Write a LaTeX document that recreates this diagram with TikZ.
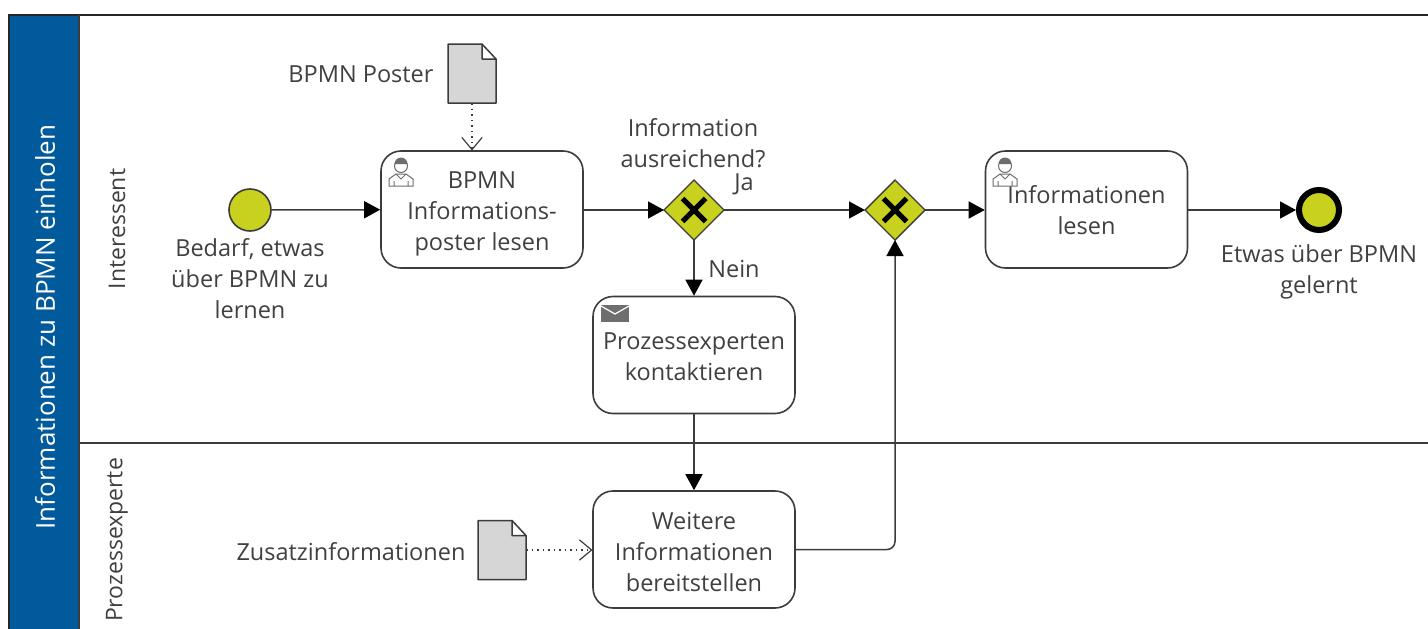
\documentclass[tikz,border=0pt]{standalone}
\usepackage{fontspec}
\setmainfont{Open Sans}
\usetikzlibrary{arrows.meta,shapes.geometric}
\definecolor{gwfill}{HTML}{C8D11E}
\definecolor{poolblue}{HTML}{005A9C}
\definecolor{linegray}{HTML}{3C3C3C}
\definecolor{txtgray}{HTML}{404040}
\definecolor{docfill}{HTML}{D6D6D6}
\definecolor{icongray}{HTML}{6E6E6E}
\newcommand\tasktext[2]{\raisebox{#1}[0pt][0pt]{\begin{tabular}{@{}c@{}}#2\end{tabular}}}
\tikzset{
  lbl/.style={inner sep=0pt,text=txtgray,align=center,font=\fontsize{23.5}{31}\selectfont},
  lanelbl/.style={inner sep=0pt,text=txtgray,rotate=90,font=\fontsize{23}{31}\selectfont},
  taskbox/.style={draw=linegray,line width=1.6pt,fill=white,rounded corners=20pt,minimum width=202pt,minimum height=117pt,inner sep=0pt,text=txtgray,font=\fontsize{23.5}{31}\selectfont},
  gateway/.style={diamond,aspect=1,draw=linegray,line width=1.4pt,fill=gwfill,minimum width=60pt,minimum height=60pt,inner sep=0pt,outer sep=0pt},
  xmark/.style={line width=5pt,black},
  startev/.style={circle,draw=linegray,line width=1.6pt,fill=gwfill,minimum size=42pt,inner sep=0pt},
  endev/.style={circle,draw=black,line width=6pt,fill=gwfill,minimum size=40pt,inner sep=0pt},
  flow/.style={draw=linegray,line width=1.5pt,-{Triangle[length=16pt,width=17pt,color=black]}},
  assoc/.style={draw=linegray,line width=1.2pt,dash pattern=on 1.5pt off 4pt,-{Straight Barb[length=12pt,width=20pt,color=linegray,line width=1.2pt,round]}},
  docpath/.style={draw=linegray,line width=1.5pt,fill=docfill,line join=round},
  docnode/.style={minimum width=48pt,minimum height=59pt,inner sep=0pt,outer sep=0pt},
  usericon/.pic={
    \draw[icongray,line width=1pt,fill=white] (-12,14) -- (-12,7) -- (-5,2) -- (5,2) -- (12,7) -- (12,14) -- cycle;
    \draw[icongray,line width=1pt] (-5,2) -- (0,7) -- (5,2) (-7,14) -- (-7,9) (7,14) -- (7,9);
    \draw[icongray,line width=1pt,fill=white] (0,-6) circle (6.5);
    \fill[icongray] (-6.5,-8) arc (180:360:6.5) -- cycle;
  },
  mailicon/.pic={
    \fill[icongray] (0,0) rectangle (28,17);
    \draw[white,line width=1.2pt] (0,1) -- (14,9) -- (28,1);
  }
}
\begin{document}
\begin{tikzpicture}[x=1pt,y=-1pt]
\useasboundingbox (0,0) rectangle (1428,629);
\fill[white] (0,0) rectangle (1428,629);
% pool
\fill[poolblue] (9,15) rectangle (79,629);
\draw[black!85,line width=1.6pt] (1428,15) -- (9,15) -- (9,629);
\draw[linegray,line width=1.6pt] (79,15) -- (79,629);
\draw[linegray,line width=1.8pt] (79,443) -- (1428,443);
\node[inner sep=0pt,rotate=90,text=white,font=\fontsize{26}{30}\selectfont] (pooltitle) at (45,327) {Informationen zu BPMN einholen};
\node[lanelbl] (lane1) at (117,229) {Interessent};
\node[lanelbl] (lane2) at (117,540) {Prozessexperte};
% events
\node[startev] (start) at (250,210) {};
\node[endev] (end) at (1319,210) {};
% tasks
\node[taskbox] (task1) at (482,209.5) {\tasktext{-10pt}{BPMN\\Informations-\\poster lesen}};
\node[taskbox] (task2) at (694,355) {\tasktext{-10pt}{Prozessexperten\\kontaktieren}};
\node[taskbox] (task3) at (1086.5,209.5) {\tasktext{-10pt}{Informationen\\lesen}};
\node[taskbox] (task4) at (694,549.5) {\tasktext{-11pt}{Weitere\\Informationen\\bereitstellen}};
% gateways
\node[gateway] (g1) at (694,210) {};
\node[gateway] (g2) at (895,210) {};
\draw[xmark] (g1) +(-11.5,-11.5) -- +(11.5,11.5) (g1) +(-11.5,11.5) -- +(11.5,-11.5);
\draw[xmark] (g2) +(-11.5,-11.5) -- +(11.5,11.5) (g2) +(-11.5,11.5) -- +(11.5,-11.5);
% documents
\node[docnode] (poster) at (472,73.5) {};
\draw[docpath] (448,44) -- (482,44) -- (496,59) -- (496,103) -- (448,103) -- cycle (482,44) -- (482,59) -- (496,59);
\node[docnode] (zusatz) at (502,550) {};
\draw[docpath] (478,520.5) -- (512,520.5) -- (526,535.5) -- (526,579.5) -- (478,579.5) -- cycle (512,520.5) -- (512,535.5) -- (526,535.5);
% icons
\pic at (401,172) {usericon};
\pic at (1005,172) {usericon};
\pic at (601,305) {mailicon};
% labels
\node[lbl] (startlbl) at (250,279) {Bedarf, etwas\\über BPMN zu\\lernen};
\node[lbl] (endlbl) at (1319,272) {Etwas über BPMN\\gelernt};
\node[lbl] (posterlbl) at (361,74) {BPMN Poster};
\node[lbl] (zusatzlbl) at (351,552) {Zusatzinformationen};
\node[lbl] (q) at (693,143) {Information\\ausreichend?};
\node[lbl] (ja) at (744,184) {Ja};
\node[lbl] (nein) at (734,269) {Nein};
% flows
\draw[flow] (start) -- (task1);
\draw[flow] (task1.east |- g1) -- (g1);
\draw[flow] (g1) -- (g2);
\draw[flow] (g2) -- (task3.west |- g2);
\draw[flow] (task3.east |- end) -- (end);
\draw[flow] (g1) -- (task2);
\draw[flow] (task2) -- (task4);
\draw[flow,rounded corners=8pt] (task4) -| (g2);
\draw[assoc] (poster.south) -- (poster.south |- task1.north);
\draw[assoc] (zusatz.east) -- (task4.west |- zusatz.east);
\end{tikzpicture}
\end{document}
